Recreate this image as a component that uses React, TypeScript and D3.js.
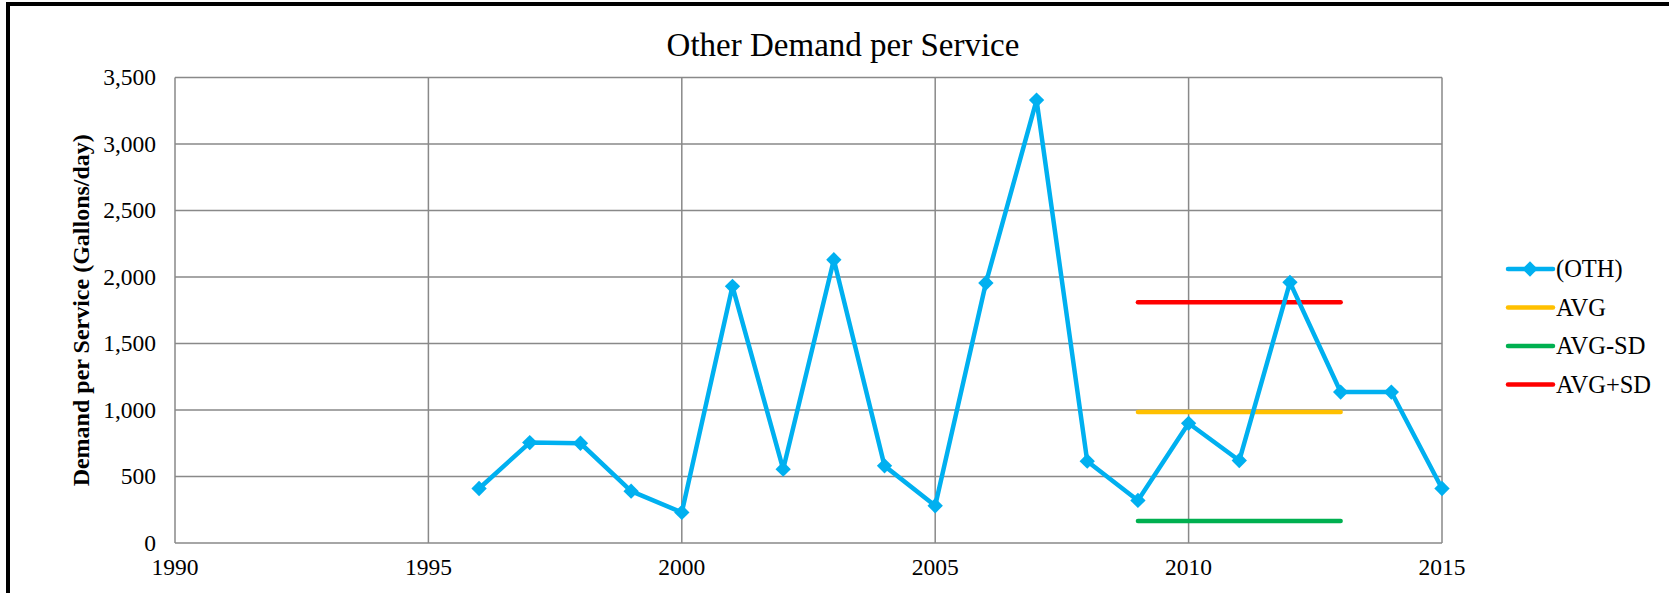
import { useEffect, useRef } from "react";
import * as d3 from "d3";

const years = [1996, 1997, 1998, 1999, 2000, 2001, 2002, 2003, 2004, 2005, 2006, 2007, 2008, 2009, 2010, 2011, 2012, 2013, 2014, 2015];
const othValues = [410, 755, 750, 390, 230, 1930, 555, 2130, 580, 280, 1955, 3330, 615, 320, 900, 620, 1960, 1135, 1135, 410];

const statYears = [2009, 2013];
const avgValue = 985;
const avgMinusSd = 165;
const avgPlusSd = 1810;

const xTicks = [1990, 1995, 2000, 2005, 2010, 2015];
const yTicks = [0, 500, 1000, 1500, 2000, 2500, 3000, 3500];

const legendItems = [
  { label: "(OTH)", color: "#00B0F0", marker: true },
  { label: "AVG", color: "#FFC000", marker: false },
  { label: "AVG-SD", color: "#00B050", marker: false },
  { label: "AVG+SD", color: "#FF0000", marker: false },
];

const W = 1669;
const H = 593;
const FONT = "'Liberation Serif', 'Times New Roman', serif";

function App() {
  const svgRef = useRef<SVGSVGElement | null>(null);

  useEffect(() => {
    if (!svgRef.current) return;
    const svg = d3.select(svgRef.current);
    svg.selectAll("*").remove();

    const left = 175, right = 1442, top = 77.5, bottom = 543;

    const x = d3.scaleLinear().domain([1990, 2015]).range([left, right]);
    const y = d3.scaleLinear().domain([0, 3500]).range([bottom, top]);

    // outer frame
    svg.append("rect")
      .attr("x", 8).attr("y", 4)
      .attr("width", W + 20).attr("height", H + 20)
      .attr("fill", "white")
      .attr("stroke", "black").attr("stroke-width", 4);

    // title
    svg.append("text")
      .attr("x", 843).attr("y", 56)
      .attr("text-anchor", "middle")
      .attr("font-family", FONT).attr("font-size", 33)
      .text("Other Demand per Service");

    // grid
    const grid = svg.append("g").attr("stroke", "#898989").attr("stroke-width", 1.5);
    yTicks.forEach((t) => {
      grid.append("line")
        .attr("x1", left).attr("x2", right)
        .attr("y1", y(t)).attr("y2", y(t));
    });
    xTicks.forEach((t) => {
      grid.append("line")
        .attr("x1", x(t)).attr("x2", x(t))
        .attr("y1", top).attr("y2", bottom);
    });

    // tick labels
    const fmt = d3.format(",");
    svg.append("g")
      .selectAll("text")
      .data(yTicks)
      .enter()
      .append("text")
      .attr("x", left - 19)
      .attr("y", (d) => y(d))
      .attr("dy", "0.33em")
      .attr("text-anchor", "end")
      .attr("font-family", FONT).attr("font-size", 23.5)
      .text((d) => fmt(d));

    svg.append("g")
      .selectAll("text")
      .data(xTicks)
      .enter()
      .append("text")
      .attr("x", (d) => x(d))
      .attr("y", 575)
      .attr("text-anchor", "middle")
      .attr("font-family", FONT).attr("font-size", 23.5)
      .text((d) => String(d));

    // y axis label
    svg.append("text")
      .attr("transform", `translate(89,${(top + bottom) / 2}) rotate(-90)`)
      .attr("text-anchor", "middle")
      .attr("font-family", FONT).attr("font-size", 24).attr("font-weight", "bold")
      .text("Demand per Service (Gallons/day)");

    // stat lines
    const stats = [
      { v: avgMinusSd, c: "#00B050" },
      { v: avgValue, c: "#FFC000" },
      { v: avgPlusSd, c: "#FF0000" },
    ];
    stats.forEach((s) => {
      svg.append("line")
        .attr("x1", x(statYears[0])).attr("x2", x(statYears[1]))
        .attr("y1", y(s.v)).attr("y2", y(s.v))
        .attr("stroke", s.c).attr("stroke-width", 4.5)
        .attr("stroke-linecap", "round");
    });

    // OTH series
    const pts = years.map((yr, i) => [yr, othValues[i]] as [number, number]);
    const line = d3.line<[number, number]>().x((d) => x(d[0])).y((d) => y(d[1]));
    svg.append("path")
      .attr("d", line(pts) || "")
      .attr("fill", "none")
      .attr("stroke", "#00B0F0").attr("stroke-width", 4.5)
      .attr("stroke-linejoin", "round");

    const diamond = d3.symbol().type(d3.symbolDiamond2).size(150);
    svg.append("g")
      .selectAll("path")
      .data(pts)
      .enter()
      .append("path")
      .attr("d", diamond() || "")
      .attr("transform", (d) => `translate(${x(d[0])},${y(d[1])})`)
      .attr("fill", "#00B0F0");

    // legend
    const lg = svg.append("g");
    legendItems.forEach((item, i) => {
      const ly = 269 + i * 38.5;
      lg.append("line")
        .attr("x1", 1508).attr("x2", 1553)
        .attr("y1", ly).attr("y2", ly)
        .attr("stroke", item.color).attr("stroke-width", 4.5)
        .attr("stroke-linecap", "round");
      if (item.marker) {
        lg.append("path")
          .attr("d", diamond() || "")
          .attr("transform", `translate(1530,${ly})`)
          .attr("fill", item.color);
      }
      lg.append("text")
        .attr("x", 1556).attr("y", ly)
        .attr("dy", "0.33em")
        .attr("font-family", FONT).attr("font-size", 24.5)
        .text(item.label);
    });
  }, []);

  return (
    <svg
      ref={svgRef}
      width={W}
      height={H}
      style={{ position: "absolute", left: 0, top: 0, background: "white" }}
    />
  );
}

export default App;
